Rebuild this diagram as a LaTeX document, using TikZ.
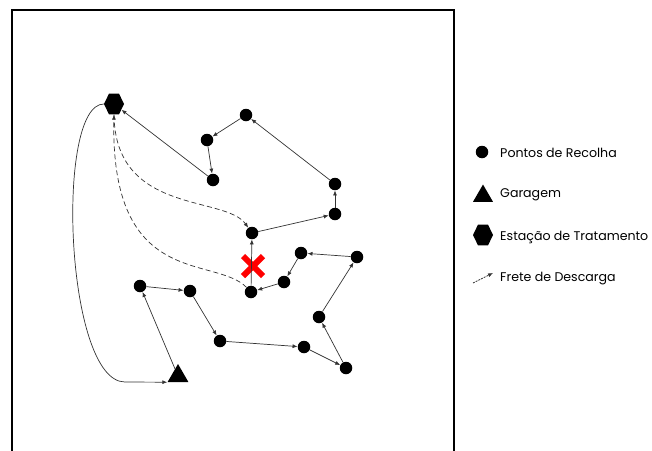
\documentclass[tikz,border=0pt]{standalone}
\usepackage{fontspec}
\setmainfont{Poppins}
\usepackage{tikz}
\usetikzlibrary{arrows.meta, shapes.geometric, shapes.misc}

\begin{document}
\begin{tikzpicture}[
        x=1pt, y=-1pt,
        ponto/.style={circle, fill=black, inner sep=0pt, minimum size=12.5pt},
        garagem/.style={regular polygon, regular polygon sides=3, fill=black, inner sep=0pt, minimum size=24pt},
        estacao/.style={regular polygon, regular polygon sides=6, fill=black, inner sep=0pt, minimum size=20pt, yscale=1.2},
        falha/.style={cross out, draw=red, line width=6pt, inner sep=0pt, minimum size=14pt},
        rota/.style={-{Latex[length=5pt,width=4pt]}, black!80, line width=0.7pt},
        descarga/.style={rota, dash pattern=on 5pt off 3pt},
        legenda/.style={anchor=base west, inner sep=0pt, font=\fontsize{12.6}{14}\selectfont},
    ]
    \useasboundingbox (0,0) rectangle (652,450);
    % frame of the map
    \draw[line width=2pt] (12,452) -- (12,10) -- (454,10) -- (454,452);

    % depots
    \node[estacao] (E) at (114,104) {};
    \node[garagem] (G) at (178,376) {};

    % collection points
    \node[ponto] (P1) at (140,286) {};
    \node[ponto] (P2) at (190,291) {};
    \node[ponto] (P3) at (220,341) {};
    \node[ponto] (P4) at (304,347) {};
    \node[ponto] (P5) at (346,368) {};
    \node[ponto] (P6) at (319,317) {};
    \node[ponto] (P7) at (357,257) {};
    \node[ponto] (P8) at (301,253) {};
    \node[ponto] (P9) at (284,282) {};
    \node[ponto] (P10) at (251,292) {};
    \node[ponto] (P11) at (252,233) {};
    \node[ponto] (P12) at (335,214) {};
    \node[ponto] (P13) at (335,184) {};
    \node[ponto] (P14) at (246,115) {};
    \node[ponto] (P15) at (207,140) {};
    \node[ponto] (P16) at (213,180) {};

    \node[falha] (X) at (253,266) {};

    % route
    \draw[rota] (E.west) .. controls (55,104) and (65,382) .. (125,382) -- (G.corner 2);
    \foreach \a/\b in {G/P1, P1/P2, P2/P3, P3/P4, P4/P5, P5/P6, P6/P7, P7/P8, P8/P9,
            P9/P10, P10/P11, P11/P12, P12/P13, P13/P14, P14/P15, P15/P16, P16/E}
        \draw[rota] (\a) -- (\b);

    % unloading trip
    \draw[descarga] (P10) .. controls (215,255) and (110,290) .. (E.south);
    \draw[descarga] (E.south) .. controls (115,215) and (225,195) .. (P11);

    % legend
    \node[ponto] (lp) at (482,152) {};
    \node[legenda] (tp) at (500,157) {Pontos de Recolha};
    \node[garagem, minimum size=23pt] (lg) at (483,196) {};
    \node[legenda] (tg) at (500,197) {Garagem};
    \node[estacao] (le) at (483,235) {};
    \node[legenda] (te) at (500,240) {Estação de Tratamento};
    \coordinate (ld1) at (473,283);
    \coordinate (ld2) at (493,273);
    \draw[descarga, dash pattern=on 2pt off 1pt] (ld1) -- (ld2);
    \node[legenda] (td) at (500,281) {Frete de Descarga};
\end{tikzpicture}
\end{document}
